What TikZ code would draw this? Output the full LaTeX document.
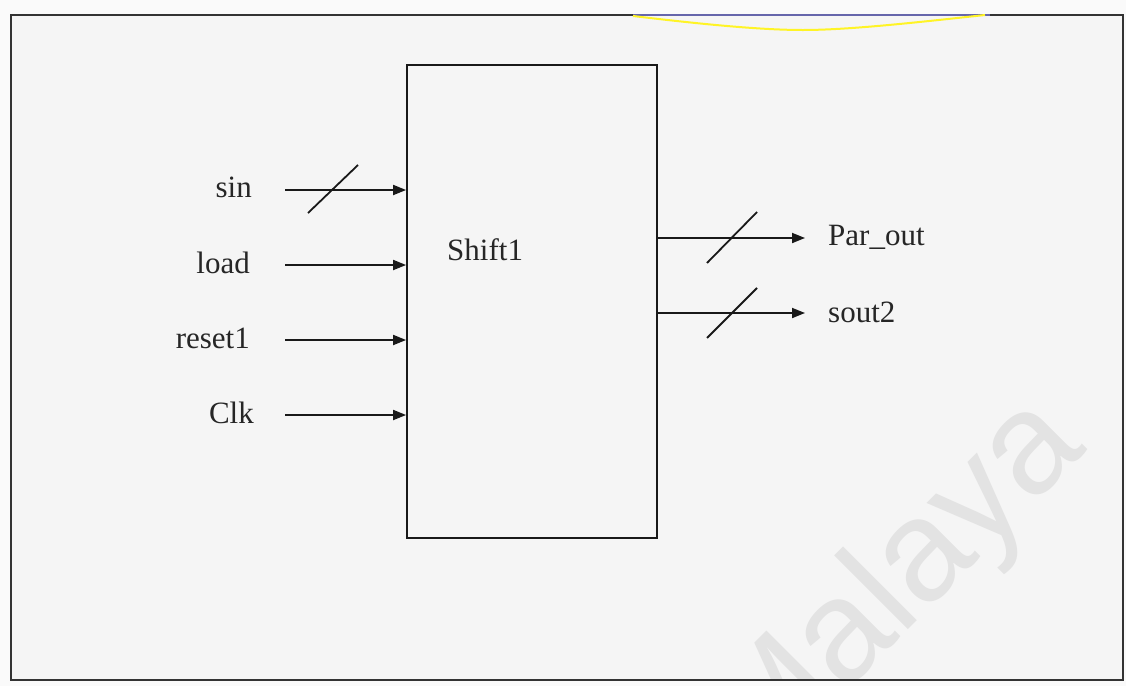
\documentclass[tikz,border=0pt]{standalone}
\usepackage{fontspec}
\setmainfont{Liberation Serif}
\newfontfamily\wmfont{Liberation Sans}
\usetikzlibrary{arrows.meta}
\begin{document}
\begin{tikzpicture}[x=1pt,y=-1pt,
  sig/.style={line width=1.8pt, draw=black!90, -{Triangle[length=13pt,width=10pt]}},
  bus/.style={line width=1.8pt, draw=black!90},
  lbl/.style={font=\fontsize{31}{33}\selectfont, inner sep=0pt, text=black!85},
  blockbox/.style={draw=black!90, line width=1.8pt, minimum width=250pt, minimum height=473pt, inner sep=0pt}
]
\useasboundingbox (0,0) rectangle (1126,686);
\fill[black!2] (0,0) rectangle (1126,686);
\fill[black!4] (11,15) rectangle (1123,680);
\begin{scope}
  \clip (11,15) rectangle (1123,680);
  \node[font=\wmfont\fontsize{144}{144}\selectfont, text=black!11, rotate=45, anchor=base west, inner sep=0pt] (wm) at (760,778) {Malaya};
\end{scope}
% frame
\draw[line width=1.5pt, black!80] (11,15) rectangle (1123,680);
\draw[line width=1.5pt, blue!45!black!60] (633,15) -- (990,15);
\draw[line width=2pt, yellow!85!white] (633,16) .. controls (700,24) and (760,30) .. (803,30) .. controls (850,30) and (920,22) .. (985,15);
% block
\node[blockbox] (box) at (532,301.5) {};
\node[lbl, anchor=base west] (bname) at (447,260) {Shift1};
% inputs
\node[lbl, anchor=base east] (lsin) at (252,197) {sin};
\node[lbl, anchor=base east] (lload) at (250,273) {load};
\node[lbl, anchor=base east] (lreset) at (250,348) {reset1};
\node[lbl, anchor=base east] (lclk) at (254,423) {Clk};
\coordinate (sinS) at (285,190);
\coordinate (loadS) at (285,265);
\coordinate (resetS) at (285,340);
\coordinate (clkS) at (285,415);
\draw[sig] (sinS) -- (sinS -| box.west);
\draw[sig] (loadS) -- (loadS -| box.west);
\draw[sig] (resetS) -- (resetS -| box.west);
\draw[sig] (clkS) -- (clkS -| box.west);
\coordinate (sinA) at (308,213);
\coordinate (sinB) at (358,165);
\draw[bus] (sinA) -- (sinB);
% outputs
\coordinate (parE) at (805,238);
\coordinate (soutE) at (805,313);
\draw[sig] (box.east |- parE) -- (parE);
\draw[sig] (box.east |- soutE) -- (soutE);
\coordinate (parA) at (707,263);
\coordinate (parB) at (757,212);
\coordinate (soutA) at (707,338);
\coordinate (soutB) at (757,288);
\draw[bus] (parA) -- (parB);
\draw[bus] (soutA) -- (soutB);
\node[lbl, anchor=base west] (lpar) at (828,245) {Par\_out};
\node[lbl, anchor=base west] (lsout) at (828,322) {sout2};
\end{tikzpicture}
\end{document}
